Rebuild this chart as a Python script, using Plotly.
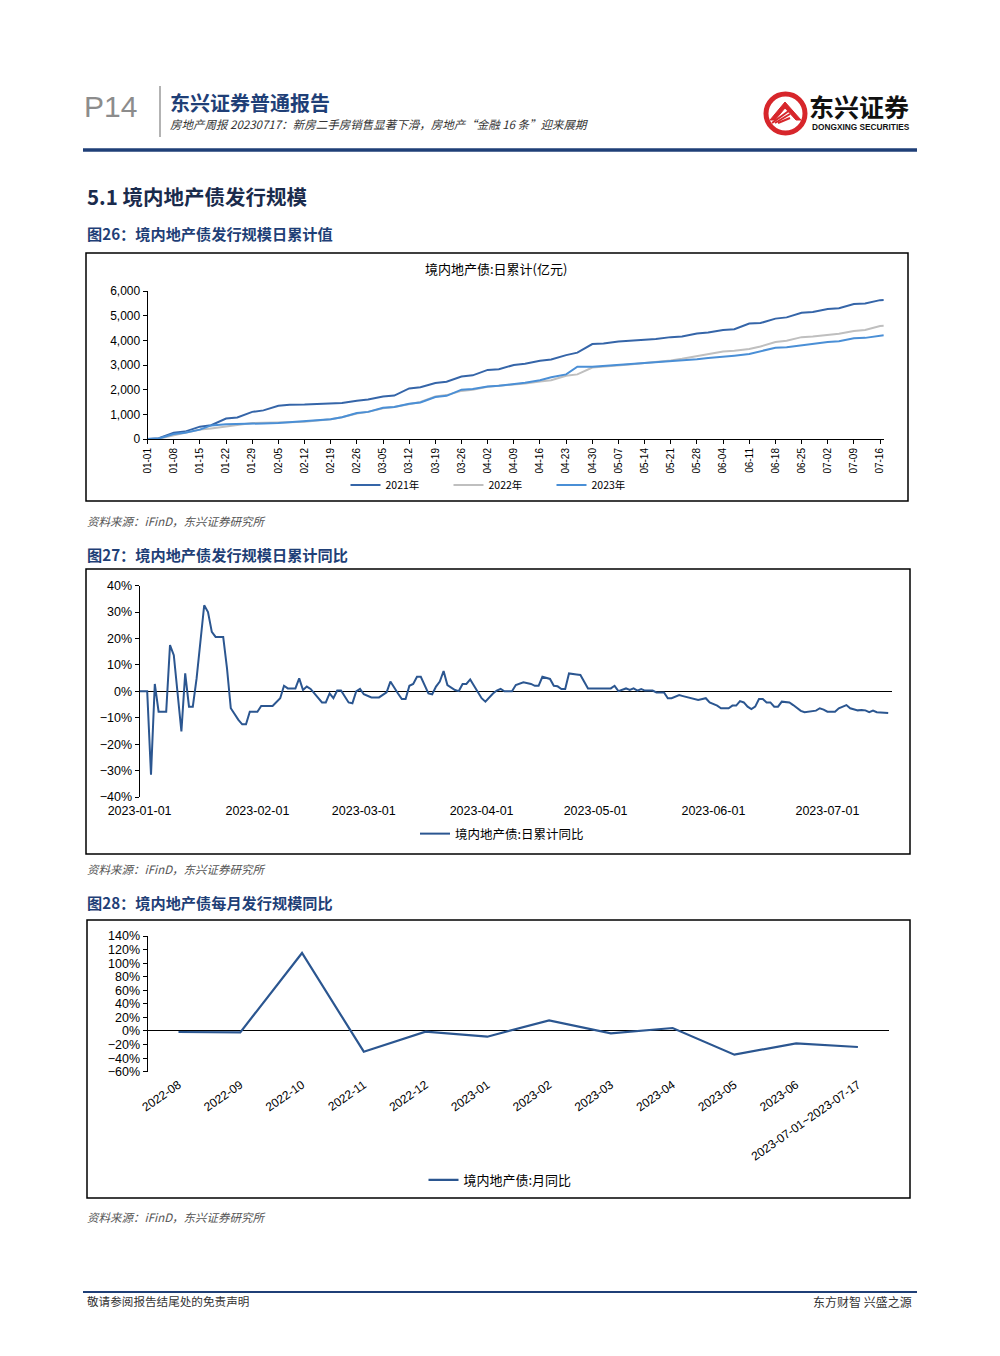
import plotly.graph_objects as go
import pandas as pd

# page is 1000x1356; the html body has an 8px margin, so the figure is 984x1340 and
# reference pixel coordinates are shifted by 8px
OFF = 8
W, H = 1000 - 2 * OFF, 1356 - 2 * OFF
def X(px): return (px - OFF) / W
def Y(py): return 1 - (py - OFF) / H

CN = "Noto Sans CJK SC"
LAT = "Liberation Sans, Arial, Noto Sans CJK SC"

# ---------------- Chart 1 data: daily cumulative issuance (亿元) ----------------
c1_dates = ["01-01", "01-04", "01-08", "01-11", "01-15", "01-18", "01-22", "01-25", "01-29",
            "02-01", "02-05", "02-08", "02-12", "02-15", "02-19", "02-22", "02-26",
            "03-01", "03-05", "03-08", "03-12", "03-15", "03-19", "03-22", "03-26", "03-29",
            "04-02", "04-05", "04-09", "04-12", "04-16", "04-19", "04-23", "04-26", "04-30",
            "05-03", "05-07", "05-10", "05-14", "05-17", "05-21", "05-24", "05-28", "05-31",
            "06-04", "06-07", "06-11", "06-14", "06-18", "06-21", "06-25", "06-28",
            "07-02", "07-05", "07-09", "07-12", "07-16", "07-17"]
c1_2021 = [0, 30, 250, 300, 500, 560, 830, 870, 1100,
           1160, 1350, 1390, 1400, 1410, 1430, 1460, 1550,
           1600, 1720, 1760, 2050, 2100, 2270, 2320, 2530, 2580,
           2800, 2830, 3000, 3050, 3170, 3220, 3400, 3500, 3850,
           3870, 3950, 3980, 4030, 4050, 4130, 4160, 4280, 4320,
           4420, 4450, 4680, 4700, 4880, 4930, 5120, 5150,
           5270, 5300, 5470, 5490, 5630, 5640]
c1_2022 = [0, 10, 150, 250, 380, 430, 500, 560, 650,
           660, 660, 680, 700, 740, 800, 880, 1030,
           1100, 1250, 1300, 1420, 1500, 1720, 1780, 1950, 2000,
           2120, 2150, 2200, 2250, 2330, 2380, 2560, 2620, 2900,
           2930, 2980, 3020, 3080, 3120, 3180, 3250, 3350, 3450,
           3550, 3580, 3650, 3750, 3930, 3980, 4130, 4160,
           4230, 4270, 4380, 4420, 4580, 4590]
c1_2023 = [0, 20, 200, 250, 380, 550, 600, 600, 610,
           630, 650, 680, 700, 730, 800, 880, 1050,
           1100, 1270, 1300, 1430, 1480, 1700, 1750, 2000, 2030,
           2130, 2160, 2220, 2280, 2380, 2500, 2620, 2930, 2930,
           2960, 3000, 3030, 3080, 3100, 3130, 3170, 3230, 3280,
           3330, 3380, 3450, 3550, 3700, 3720, 3800, 3850,
           3930, 3960, 4080, 4100, 4200, 4210]
c1_series = ["2021年", "2022年", "2023年"]
c1_colors = ["#3565A8", "#BFBFBF", "#4A8FD6"]

# ---------------- Chart 2 data: daily cumulative YoY (%) ----------------
c2_dates = ["01-01", "01-03", "01-04", "01-05", "01-06", "01-08", "01-09", "01-10", "01-12", "01-13",
            "01-14", "01-15", "01-16", "01-18", "01-19", "01-20", "01-21", "01-23", "01-24", "01-25",
            "01-27", "01-28", "01-29", "01-30", "02-01", "02-02", "02-05", "02-07", "02-08", "02-09",
            "02-11", "02-12", "02-13", "02-14", "02-15", "02-17", "02-18", "02-19", "02-20", "02-21",
            "02-22", "02-23", "02-25", "02-26", "02-27", "02-28", "03-01", "03-03", "03-05", "03-07",
            "03-08", "03-10", "03-11", "03-12", "03-13", "03-14", "03-15", "03-16", "03-18", "03-19",
            "03-20", "03-21", "03-22", "03-23", "03-25", "03-26", "03-27", "03-28", "03-29", "03-30",
            "04-01", "04-02", "04-04", "04-05", "04-06", "04-07", "04-09", "04-10", "04-12", "04-14",
            "04-15", "04-16", "04-17", "04-19", "04-20", "04-21", "04-22", "04-23", "04-24", "04-26",
            "04-27", "04-29", "05-05", "05-06", "05-07", "05-09", "05-10", "05-11", "05-12", "05-13",
            "05-14", "05-16", "05-17", "05-19", "05-20", "05-21", "05-23", "05-24", "05-26", "05-27",
            "05-28", "05-30", "05-31", "06-02", "06-03", "06-05", "06-06", "06-07", "06-08", "06-09",
            "06-10", "06-11", "06-12", "06-13", "06-14", "06-15", "06-16", "06-17", "06-18", "06-19",
            "06-21", "06-22", "06-24", "06-25", "06-26", "06-28", "06-29", "06-30", "07-01", "07-03",
            "07-04", "07-06", "07-07", "07-09", "07-10", "07-11", "07-12", "07-13", "07-14", "07-16",
            "07-17"]
c2_yoy = [0, 0, -31.6, 2.8, -7.7, -7.7, 17.5, 13.7, -15.2, 6.8,
          -5.8, -5.8, 4.9, 32.6, 30.0, 22.5, 20.6, 20.6, 8.7, -6.4,
          -10.8, -12.5, -12.5, -7.7, -7.7, -5.5, -5.5, -2.6, 2.1, 1.1,
          1.1, 4.9, 0.5, 1.8, 0.9, -2.6, -4.2, -4.2, -0.8, -2.6,
          0.3, 0.3, -4.2, -4.5, 0.0, 0.9, -1.1, -2.3, -2.3, -0.4,
          3.7, -0.8, -2.9, -2.9, 2.1, 2.8, 5.5, 5.5, -0.8, -1.1,
          1.8, 3.7, 7.7, 2.4, 0.5, 0.1, 2.8, 2.8, 4.5, 2.1,
          -2.6, -3.9, -0.8, 0.3, 0.9, 0.0, 0.0, 2.4, 3.4, 2.8,
          2.1, 2.1, 5.5, 4.7, 2.1, 1.9, 0.9, 0.9, 6.8, 6.4,
          6.2, 1.1, 1.1, 2.1, 0.1, 1.1, 0.5, 1.1, 0.3, 0.9,
          0.3, 0.3, -0.4, -0.4, -2.6, -2.6, -1.4, -1.8, -2.6, -2.9,
          -3.3, -2.6, -4.2, -5.4, -6.4, -6.4, -5.4, -5.4, -3.7, -4.2,
          -5.8, -6.7, -5.8, -2.9, -2.9, -4.2, -4.2, -5.8, -5.8, -3.9,
          -4.2, -5.2, -7.4, -7.9, -7.7, -7.3, -6.4, -6.9, -7.7, -7.7,
          -6.4, -5.2, -6.4, -7.2, -7.1, -7.2, -7.9, -7.3, -7.9, -8.2,
          -8.2]
c2_name = "境内地产债:日累计同比"
c2_ticks = ["2023-01-01", "2023-02-01", "2023-03-01", "2023-04-01",
            "2023-05-01", "2023-06-01", "2023-07-01"]

# ---------------- Chart 3 data: monthly YoY (%) ----------------
c3_months = ["2022-08", "2022-09", "2022-10", "2022-11", "2022-12", "2023-01",
             "2023-02", "2023-03", "2023-04", "2023-05", "2023-06", "2023-07-01~2023-07-17"]
c3_yoy = [-1.5, -2.0, 115.0, -30.5, -1.0, -8.4, 15.7, -3.4, 4.4, -34.9, -18.2, -23.6]
c3_name = "境内地产债:月同比"

LINE_DARK = "#2B5690"

fig = go.Figure()

for name, vals, col in zip(c1_series, [c1_2021, c1_2022, c1_2023], c1_colors):
    fig.add_trace(go.Scatter(x=["2023-" + d for d in c1_dates], y=vals, name=name, mode="lines",
                             line=dict(color=col, width=2), xaxis="x", yaxis="y", legend="legend"))
fig.add_trace(go.Scatter(x=["2023-" + d for d in c2_dates], y=c2_yoy, name=c2_name, mode="lines",
                         line=dict(color=LINE_DARK, width=2), xaxis="x2", yaxis="y2", legend="legend2"))
fig.add_trace(go.Scatter(x=c3_months, y=c3_yoy, name=c3_name, mode="lines",
                         line=dict(color=LINE_DARK, width=2.2), xaxis="x3", yaxis="y3", legend="legend3"))

d1x = [X(147.6), X(883.8)]; d1y = [Y(439), Y(291)]
d2x = [X(139.6), X(892)];   d2y = [Y(797), Y(585.7)]
d3x = [X(147.6), X(888.8)]; d3y = [Y(1071.7), Y(936)]

c1_tickvals = pd.date_range("2023-01-01", "2023-07-16", freq="7D")

fig.update_layout(
    width=W, height=H, margin=dict(l=0, r=0, t=0, b=0, pad=0, autoexpand=False),
    template="none",
    paper_bgcolor="white", plot_bgcolor="white",
    font=dict(family=LAT, color="#000"),
    showlegend=True,
    hovermode=False,
    xaxis=dict(domain=d1x, anchor="y", type="date", range=["2023-01-01", "2023-07-17"],
               tickvals=c1_tickvals, tickformat="%m-%d", tickangle=-90,
               tickfont=dict(family=LAT, size=10, color="#000"), automargin=False,
               showline=True, linecolor="#000", linewidth=1, ticks="outside", ticklen=4,
               tickcolor="#000", showgrid=False, zeroline=False),
    yaxis=dict(domain=d1y, anchor="x", range=[0, 6000], dtick=1000, tickformat=",",
               tickfont=dict(family=LAT, size=12, color="#000"),
               showline=True, linecolor="#000", linewidth=1, automargin=False,
               ticks="outside", ticklen=4, tickcolor="#000", showgrid=False, zeroline=False),
    xaxis2=dict(domain=d2x, anchor="y2", type="date", range=["2023-01-01", "2023-07-18"],
                tickvals=c2_ticks, tickformat="%Y-%m-%d", tickangle=0,
                tickfont=dict(family=LAT, size=12.5, color="#000"),
                automargin=False, ticklabelstandoff=4,
                showline=False, ticks="", showgrid=False, zeroline=False),
    yaxis2=dict(domain=d2y, anchor="x2", range=[-40, 40], dtick=10, ticksuffix="%",
                tickfont=dict(family=LAT, size=12.5, color="#000"),
                showline=True, linecolor="#000", linewidth=1, automargin=False,
                ticks="outside", ticklen=4, tickcolor="#000", showgrid=False,
                zeroline=True, zerolinecolor="#000", zerolinewidth=1),
    xaxis4=dict(overlaying="x2", anchor="free", position=(d2y[0] + d2y[1]) / 2, type="date",
                range=["2023-01-01", "2023-07-18"], tickvals=c2_ticks, showticklabels=False,
                ticks="outside", ticklen=4, tickcolor="#000", showline=False, showgrid=False,
                zeroline=False, automargin=False),
    xaxis3=dict(domain=d3x, anchor="y3", type="category", range=[-0.5, 11.5],
                tickangle=-35, tickfont=dict(family=LAT, size=12, color="#000"),
                automargin=False, ticklabelstandoff=3,
                showline=False, ticks="", showgrid=False, zeroline=False),
    yaxis3=dict(domain=d3y, anchor="x3", range=[-60, 140], dtick=20, ticksuffix="%",
                tickfont=dict(family=LAT, size=12.5, color="#000"),
                showline=True, linecolor="#000", linewidth=1, automargin=False,
                ticks="outside", ticklen=4, tickcolor="#000", showgrid=False,
                zeroline=True, zerolinecolor="#000", zerolinewidth=1),
    xaxis5=dict(overlaying="x3", anchor="free", position=d3y[0] + (d3y[1] - d3y[0]) * 0.3,
                type="linear", range=[-0.5, 11.5], tickvals=[i - 0.5 for i in range(13)],
                showticklabels=False, ticks="outside", ticklen=4, tickcolor="#000",
                showline=False, showgrid=False, zeroline=False, automargin=False),
    legend=dict(orientation="h", x=X(500), xanchor="center", y=Y(485), yanchor="middle",
                font=dict(family=CN, size=10.5, color="#000"), bgcolor="rgba(0,0,0,0)",
                entrywidth=58, entrywidthmode="pixels", tracegroupgap=0),
    legend2=dict(orientation="h", x=X(502), xanchor="center", y=Y(834), yanchor="middle",
                 font=dict(family=CN, size=12.5, color="#000"), bgcolor="rgba(0,0,0,0)"),
    legend3=dict(orientation="h", x=X(500), xanchor="center", y=Y(1180), yanchor="middle",
                 font=dict(family=CN, size=13, color="#000"), bgcolor="rgba(0,0,0,0)"),
)

shapes = []
annos = []

def text(px, py, s, size, color="#000", bold=False, family=CN, xanchor="left", italic=False):
    if bold:
        s = "<b>" + s + "</b>"
    if italic:
        s = "<i>" + s + "</i>"
    annos.append(dict(x=X(px), y=Y(py), xref="paper", yref="paper", text=s, showarrow=False,
                      xanchor=xanchor, yanchor="middle",
                      font=dict(family=family, size=size, color=color)))

def line(x0, y0, x1, y1, color, width):
    shapes.append(dict(type="line", xref="paper", yref="paper", x0=X(x0), y0=Y(y0), x1=X(x1),
                       y1=Y(y1), line=dict(color=color, width=width)))

def rect(x0, y0, x1, y1, color="#000", width=1.5, fill=None):
    shapes.append(dict(type="rect", xref="paper", yref="paper", x0=X(x0), y0=Y(y0), x1=X(x1),
                       y1=Y(y1), line=dict(color=color, width=width),
                       fillcolor=fill if fill else "rgba(0,0,0,0)"))

NAVY = "#1F3F77"

# Header
text(82, 106, "P14", 30, color="#8C8C8C", family="Liberation Sans")
line(160, 86, 160, 137, "#9A9A9A", 1.5)
text(168, 102.5, "东兴证券普通报告", 20, color=NAVY, bold=True)
text(168, 124.5, "房地产周报 20230717：新房二手房销售显著下滑，房地产“金融 16 条”迎来展期", 11.5,
     color="#333", italic=True)
# Logo
shapes.append(dict(type="circle", xref="paper", yref="paper", x0=X(766), y0=Y(133), x1=X(805),
                   y1=Y(94), line=dict(color="#D7262B", width=5), fillcolor="white"))
shapes.append(dict(type="path", xref="paper", yref="paper",
                   path=f"M {X(770)},{Y(120)} L {X(785)},{Y(102)} L {X(801)},{Y(120)} "
                        f"L {X(796)},{Y(120)} L {X(785)},{Y(108)} L {X(775)},{Y(120)} Z",
                   line=dict(color="#D7262B", width=1), fillcolor="#D7262B"))
for k in range(3):
    line(772 + k * 3, 123, 790, 110 + k * 4, "#D7262B", 2)
text(807, 106, "东兴证券", 25, color="#111", bold=True)
text(810, 126.5, "DONGXING SECURITIES", 8.3, color="#111", bold=True, family="Liberation Sans")
line(83, 150, 917, 150, NAVY, 3.5)

# Section titles
text(85, 196, "5.1 境内地产债发行规模", 20.5, color="#1A2B4C", bold=True)
text(85, 233, "图26：境内地产债发行规模日累计值", 15.2, color=NAVY, bold=True)
rect(86, 253, 908, 501)
text(496, 268, "境内地产债:日累计(亿元)", 13, xanchor="center")
text(85, 521, "资料来源：iFinD，东兴证券研究所", 11.5, color="#555", italic=True)

text(85, 554, "图27：境内地产债发行规模日累计同比", 15.2, color=NAVY, bold=True)
rect(86, 569, 910, 854)
text(85, 869, "资料来源：iFinD，东兴证券研究所", 11.5, color="#555", italic=True)

text(85, 902, "图28：境内地产债每月发行规模同比", 15.2, color=NAVY, bold=True)
rect(87, 920, 910, 1198)
text(85, 1217, "资料来源：iFinD，东兴证券研究所", 11.5, color="#555", italic=True)

# Footer
line(83, 1292, 917, 1292, NAVY, 2)
text(85, 1301, "敬请参阅报告结尾处的免责声明", 11.6, color="#333")
text(914, 1301, "东方财智 兴盛之源", 12, color="#333", xanchor="right")

fig.update_layout(shapes=shapes, annotations=annos)
fig.write_html("out.html")
